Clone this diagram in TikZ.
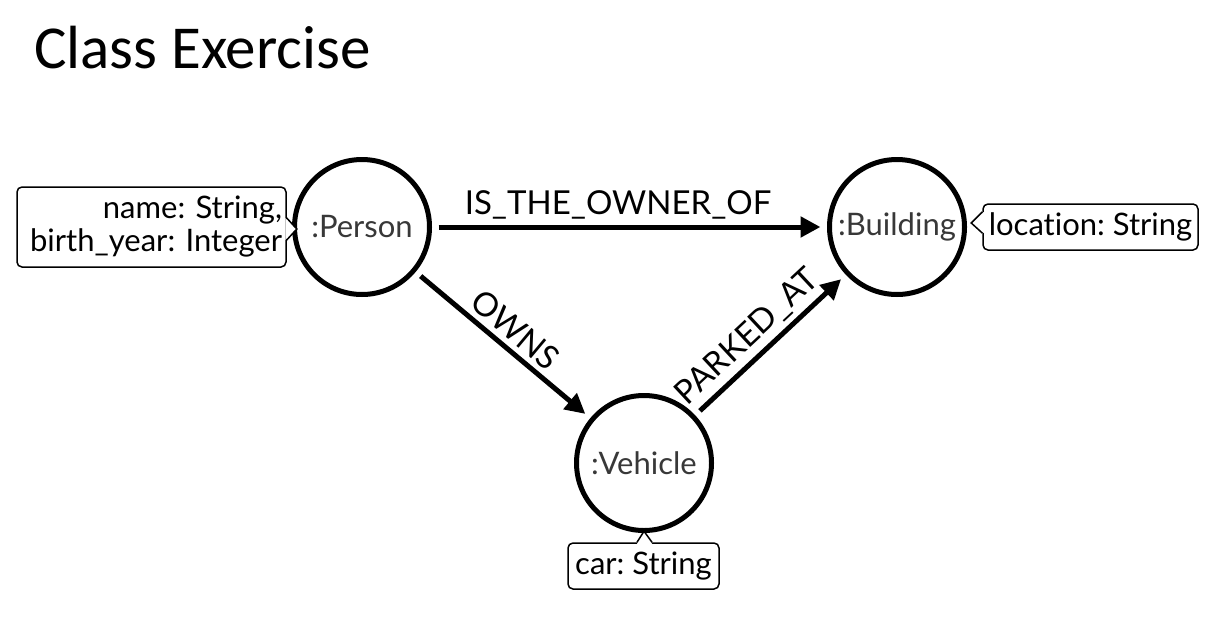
\documentclass[tikz,border=0pt]{standalone}
\usepackage{fontspec}
\setmainfont{Lato}[Ligatures=NoCommon]
\newfontfamily\titlefont{Carlito}
\usetikzlibrary{arrows.meta,calc}
\frenchspacing
\begin{document}
\begin{tikzpicture}[x=1pt,y=-1pt,
  entity/.style={circle, draw=black, line width=5pt, minimum size=135pt, inner sep=0pt, outer sep=9pt, font=\fontsize{31}{34}\selectfont, text=black!78},
  prop/.style={draw=black, line width=1.5pt, rounded corners=5pt, fill=white, font=\fontsize{31}{33}\selectfont, inner xsep=4pt, inner ysep=2pt, align=right},
  ptr/.style={draw=black, line width=1.5pt, line join=miter},
  rel/.style={line width=5pt, -{Triangle[length=20pt,width=20pt]}},
  rellabel/.style={font=\fontsize{33}{36}\selectfont, inner sep=5pt, text=black},
]
\useasboundingbox (0,0) rectangle (1226,624);
\fill[white] (0,0) rectangle (1226,624);

\node[anchor=base west, font=\titlefont\fontsize{61}{64}\selectfont, inner sep=0pt] (title) at (34,68) {Class Exercise};

\node[entity] (person) at (362,227) {:Person};
\node[entity] (building) at (897,227) {:Building};
\node[entity] (vehicle) at (644,463) {:Vehicle};

% property boxes
\node[prop, minimum width=269pt, minimum height=80pt, text width=261pt] (pp) at (151.5,227) {name: String,\\birth\_year: Integer};
\node[prop, minimum width=215pt, minimum height=46pt] (bp) at (1090.5,227) {location: String};
\node[prop, minimum width=151pt, minimum height=46pt] (vp) at (643.5,566) {car: String};

% pointers
\fill[white] ($(pp.east)+(-1.5,-9)$) -- ($(pp.east)+(10,2)$) -- ($(pp.east)+(-1.5,13)$) -- cycle;
\draw[ptr] ($(pp.east)+(0,-9)$) -- ($(pp.east)+(10,2)$) -- ($(pp.east)+(0,13)$);
\fill[white] ($(bp.west)+(1.5,-15)$) -- ($(bp.west)+(-11,-4)$) -- ($(bp.west)+(1.5,6)$) -- cycle;
\draw[ptr] ($(bp.west)+(0,-15)$) -- ($(bp.west)+(-11,-4)$) -- ($(bp.west)+(0,6)$);
\fill[white] ($(vp.north)+(-6.5,1.5)$) -- ($(vp.north)+(0.5,-11)$) -- ($(vp.north)+(8.5,1.5)$) -- cycle;
\draw[ptr] ($(vp.north)+(-6.5,0)$) -- ($(vp.north)+(0.5,-11)$) -- ($(vp.north)+(8.5,0)$);

% relationships
\draw[rel] (person) -- node[rellabel, above, pos=0.47] {IS\_THE\_OWNER\_OF} (building);
\draw[rel] (person) -- node[rellabel, sloped, above] {OWNS} (vehicle);
\draw[rel] (vehicle) -- node[rellabel, sloped, above, pos=0.44] {PARKED\_AT} (building);
\end{tikzpicture}
\end{document}
